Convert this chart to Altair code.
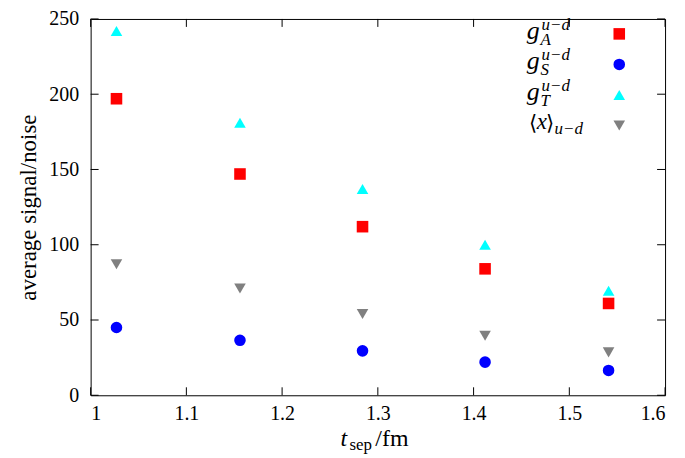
import altair as alt
import pandas as pd

# ---- data ----
t_sep = [1.027, 1.156, 1.284, 1.412, 1.541]
g_A = [197, 147, 112, 84, 61]
g_S = [45, 36.5, 29.5, 22, 16.5]
g_T = [242, 181, 137, 100, 69.5]
x_ud = [87, 71, 54, 39.5, 28.5]

series_keys = ["gA", "gS", "gT", "x"]
series_shapes = ["square", "circle", "triangle-up", "triangle-down"]
series_colors = ["#ff0000", "#0000ff", "#00ffff", "#808080"]

x_ticks = [1.0, 1.1, 1.2, 1.3, 1.4, 1.5, 1.6]
y_ticks = [0, 50, 100, 150, 200, 250]

legend_base = ["g", "g", "g", "⟨x⟩"]
legend_sup = ["u−d", "u−d", "u−d", ""]
legend_sub = ["A", "S", "T", "u−d"]

y_title = "average signal/noise"
x_title_parts = ["t", "sep", "/fm"]

FONT = "Liberation Serif"
W, H = 577, 378
TICK = 8

rows = []
for key, vals in zip(series_keys, [g_A, g_S, g_T, x_ud]):
    for t, v in zip(t_sep, vals):
        rows.append({"t": t, "v": v, "key": key})
df = pd.DataFrame(rows)

shape_scale = alt.Scale(domain=series_keys, range=series_shapes)
color_scale = alt.Scale(domain=series_keys, range=series_colors)
xs = alt.Scale(domain=[1.0, 1.6], nice=False, zero=False)
ys = alt.Scale(domain=[0, 250], nice=False, zero=False)

pts = alt.Chart(df).mark_point(filled=True, size=135, opacity=1, strokeWidth=0).encode(
    x=alt.X("t:Q", scale=xs, axis=alt.Axis(values=x_ticks, format="~g", title=None, labelPadding=8)),
    y=alt.Y("v:Q", scale=ys, axis=alt.Axis(values=y_ticks, title=y_title, labelPadding=12,
                                           titlePadding=8, titleFont=FONT, titleFontSize=23,
                                           titleFontWeight="normal", titleColor="black")),
    shape=alt.Shape("key:N", scale=shape_scale, legend=None),
    color=alt.Color("key:N", scale=color_scale, legend=None),
)

xt = pd.DataFrame({"t": x_ticks})
yt = pd.DataFrame({"v": y_ticks})
rule = dict(color="black", strokeWidth=1)
tick_b = alt.Chart(xt).mark_rule(**rule).encode(x=alt.X("t:Q", scale=xs), y=alt.value(H), y2=alt.value(H - TICK))
tick_t = alt.Chart(xt).mark_rule(**rule).encode(x=alt.X("t:Q", scale=xs), y=alt.value(0), y2=alt.value(TICK))
tick_l = alt.Chart(yt).mark_rule(**rule).encode(y=alt.Y("v:Q", scale=ys), x=alt.value(0), x2=alt.value(TICK))
tick_r = alt.Chart(yt).mark_rule(**rule).encode(y=alt.Y("v:Q", scale=ys), x=alt.value(W), x2=alt.value(W - TICK))

main = alt.layer(pts, tick_b, tick_t, tick_l, tick_r)

# ---- custom legend (gnuplot style: label then symbol) ----
leg = pd.DataFrame({"row": [0, 1, 2, 3], "key": series_keys, "base": legend_base,
                    "sup": legend_sup, "sub": legend_sub})
yrow = alt.Y("row:O", scale=alt.Scale(type="point", domain=[0, 1, 2, 3], range=[15, 107], padding=0), axis=None)
lb = alt.Chart(leg)
leg_sym = lb.mark_point(filled=True, size=135, opacity=1, strokeWidth=0).encode(
    x=alt.value(531), y=yrow,
    shape=alt.Shape("key:N", scale=shape_scale, legend=None),
    color=alt.Color("key:N", scale=color_scale, legend=None),
)
txt = dict(font=FONT, fontStyle="italic", align="left", baseline="alphabetic", color="black")
txt_up = dict(txt, fontStyle="normal")
g_rows = lb.transform_filter(alt.datum.row < 3)
x_row = lb.transform_filter(alt.datum.row == 3).transform_calculate(
    lbr="substring(datum.base, 0, 1)", mid="substring(datum.base, 1, 2)", rbr="substring(datum.base, 2, 3)")
g_base = g_rows.mark_text(fontSize=26, dy=5, **txt).encode(x=alt.value(438), y=yrow, text="base:N")
g_sup = g_rows.mark_text(fontSize=17, dy=-4, **txt).encode(x=alt.value(453), y=yrow, text="sup:N")
g_sub = g_rows.mark_text(fontSize=17, dy=11, **txt).encode(x=alt.value(452), y=yrow, text="sub:N")
x_l = x_row.mark_text(fontSize=21, dy=5, **txt_up).encode(x=alt.value(440), y=yrow, text="lbr:N")
x_m = x_row.mark_text(fontSize=23, dy=4, **txt).encode(x=alt.value(448), y=yrow, text="mid:N")
x_r = x_row.mark_text(fontSize=21, dy=5, **txt_up).encode(x=alt.value(457), y=yrow, text="rbr:N")
x_sub = x_row.mark_text(fontSize=17, dy=9, **txt).encode(x=alt.value(466), y=yrow, text="sub:N")
legend = alt.layer(leg_sym, g_base, g_sup, g_sub, x_l, x_m, x_r, x_sub)

# ---- x-axis title with subscript ----
xtd = pd.DataFrame({"s": x_title_parts, "i": [0, 1, 2]})
xb = alt.Chart(xtd)
xt_t = xb.transform_filter(alt.datum.i == 0).mark_text(fontSize=24, **txt).encode(
    x=alt.value(251), y=alt.value(429), text="s:N")
xt_sep = xb.transform_filter(alt.datum.i == 1).mark_text(fontSize=17, **txt_up).encode(
    x=alt.value(260), y=alt.value(433), text="s:N")
xt_fm = xb.transform_filter(alt.datum.i == 2).mark_text(fontSize=24, **txt_up).encode(
    x=alt.value(286), y=alt.value(429), text="s:N")
xtitle = alt.layer(xt_t, xt_sep, xt_fm)

chart = alt.layer(main, legend, xtitle).resolve_scale(y="independent").properties(
    width=W, height=H,
    autosize=alt.AutoSizeParams(type="none"),
    padding={"left": 83, "top": 10, "right": 12, "bottom": 60},
    background="white",
).configure_view(stroke="black", strokeWidth=1).configure_axis(
    domain=False, ticks=False, grid=False,
    labelFont=FONT, labelFontSize=20, labelColor="black",
)

chart.save("out.html", embed_options={"renderer": "svg", "actions": False})
